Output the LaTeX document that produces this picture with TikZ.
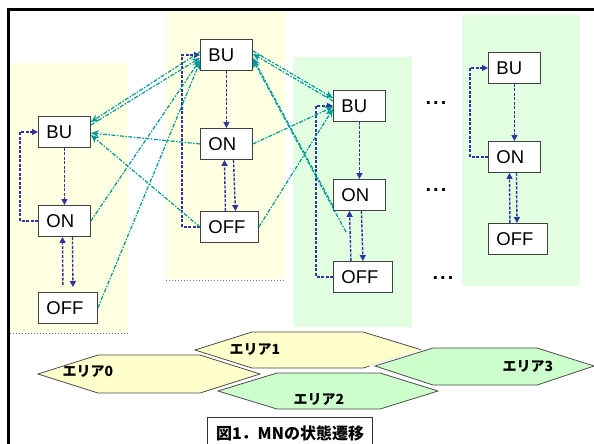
\documentclass[tikz,border=0pt]{standalone}
\usepackage{fontspec}
\setmainfont{Liberation Sans}
\newfontfamily\jp{Noto Sans CJK JP}
\usetikzlibrary{arrows.meta}

\definecolor{areayellow}{RGB}{255,255,226}
\definecolor{areagreen}{RGB}{226,255,226}
\definecolor{hexyellow}{RGB}{255,255,204}
\definecolor{hexgreen}{RGB}{204,255,204}
\definecolor{mnblue}{RGB}{51,51,160}
\definecolor{mnteal}{RGB}{0,153,153}

\tikzset{
  mnbox/.style={draw=black!75, fill=white, line width=0.9pt, anchor=north west,
    minimum height=31pt, inner xsep=8pt, inner ysep=0pt, text width=#1,
    align=left, font=\fontsize{18.5}{18.5}\selectfont},
  mnbox/.default=36pt,
  local/.style={draw=mnblue, line width=1.4pt, dash pattern=on 3pt off 1.5pt,
    -{Triangle[length=6pt,width=6pt]}},
  hand/.style={draw=mnteal, line width=1.2pt,
    dash pattern=on 4pt off 1.5pt on 1.5pt off 1.5pt,
    -{Stealth[length=8pt,width=7pt]}},
  hexarea/.style={draw=black!70, line width=0.8pt,
    preaction={draw=white, line width=4pt}},
  arealabel/.style={font=\jp\bfseries\fontsize{14}{14}\selectfont},
  dots/.style={font=\bfseries\fontsize{20}{20}\selectfont}
}

\begin{document}
\begin{tikzpicture}[x=1pt,y=-1pt]
\useasboundingbox (0,0) rectangle (594,444);
\clip (0,0) rectangle (594,444);
\fill[white] (0,0) rectangle (594,444);

% areas
\fill[areayellow] (10,63) rectangle (128,332);
\fill[areayellow] (166,10) rectangle (285,279);
\fill[areagreen] (293,57) rectangle (412,327);
\fill[areagreen] (462,15) rectangle (580,286);
\draw[black!55, dotted, line width=1pt] (10,333) -- (128,333);
\draw[black!55, dotted, line width=1pt] (166,280) -- (285,280);

\draw[line width=2.5pt] (8.5,450) -- (8.5,9.5) -- (600,9.5);

\begin{scope}[every node/.style={mnbox}]
\node (bu0) at (38,116) {BU};
\node (on0) at (38,205) {ON};
\node[text width=43pt] (off0) at (38,292) {OFF};
\node (bu1) at (200,39) {BU};
\node (on1) at (200,128) {ON};
\node[text width=42pt] (off1) at (200,211) {OFF};
\node (bu2) at (333,90) {BU};
\node (on2) at (333,179) {ON};
\node[text width=43pt] (off2) at (333,261) {OFF};
\node (bu3) at (488,52) {BU};
\node (on3) at (488,141) {ON};
\node[text width=43pt] (off3) at (488,223) {OFF};
\end{scope}

\node[dots] (dots1) at (436,103) {.\kern2pt.\kern2pt.};
\node[dots] (dots2) at (436,190) {.\kern2pt.\kern2pt.};
\node[dots] (dots3) at (443,278) {.\kern2pt.\kern2pt.};

% inside each area
\draw[local] (bu0.south) -- (on0.north);
\draw[local] ([xshift=-5pt,yshift=7pt]off0.north) -- ([xshift=-2pt]on0.south);
\draw[local] ([xshift=8pt]on0.south) -- ([xshift=5pt,yshift=5pt]off0.north);
\draw[local] (on0.west) -- ++(-18,0) |- (bu0.west);

\draw[local] (bu1.south) -- (on1.north);
\draw[local] ([xshift=-4pt]off1.north) -- ([xshift=-2pt]on1.south);
\draw[local] ([xshift=7pt]on1.south) -- ([xshift=6pt]off1.north);
\draw[local] (off1.west) -- ++(-18,0) |- (bu1.west);

\draw[local] (bu2.south) -- (on2.north);
\draw[local] ([xshift=-12pt]off2.north) -- ([xshift=-10pt]on2.south);
\draw[local] ([xshift=2pt]on2.south) -- (off2.north);
\draw[local] (off2.west) -- ++(-17,0) |- (bu2.west);

\draw[local] (bu3.south) -- (on3.north);
\draw[local] ([xshift=-8pt]off3.north) -- ([xshift=-5pt]on3.south);
\draw[local] ([xshift=2pt]on3.south) -- ([xshift=-1pt]off3.north);
\draw[local] (on3.west) -- ++(-18,0) |- (bu3.west);

% between areas
\coordinate (l2) at (346,232);
\draw[hand] ([yshift=3pt]bu1.west) -- ([yshift=10pt]bu0.east);
\draw[hand] ([yshift=7pt]bu0.east) -- ([yshift=-3pt]bu1.west);
\draw[hand] (on0.east) -- ([yshift=-5pt]bu1.west);
\draw[hand] (off0.east) -- ([yshift=-7pt]bu1.west);
\draw[hand] (on1.west) -- ([yshift=-1pt]bu0.east);
\draw[hand] (off1.west) -- ([yshift=-3pt]bu0.east);
\draw[hand] ([yshift=4pt]bu1.east) -- ([yshift=8pt]bu2.west);
\draw[hand] ([yshift=5pt]bu2.west) -- ([yshift=1pt]bu1.east);
\draw[hand] (on1.east) -- ([yshift=-1pt]bu2.west);
\draw[hand] (off1.east) -- ([yshift=-3pt]bu2.west);
\draw[hand] ([yshift=-11pt]on2.west) -- ([yshift=-3pt]bu1.east);
\draw[hand] (l2) -- ([yshift=-5pt]bu1.east);

% area hexagons
\draw[hexarea, fill=hexyellow] (38,374) -- (98,355) -- (200,355) -- (260,374) -- (200,393) -- (98,393) -- cycle;
\draw[hexarea, fill=hexyellow] (195,350) -- (252,332) -- (363,332) -- (422,350) -- (363,368) -- (252,368) -- cycle;
\draw[hexarea, fill=hexgreen] (218,391) -- (277,373) -- (380,373) -- (438,391) -- (380,409) -- (277,409) -- cycle;
\draw[hexarea, fill=hexgreen] (375,366) -- (433,348) -- (537,348) -- (594,366) -- (537,385) -- (433,385) -- cycle;
\node[arealabel] (a0) at (88,371) {エリア0};
\node[arealabel] (a1) at (255,349) {エリア1};
\node[arealabel] (a2) at (319,399) {エリア2};
\node[arealabel] (a3) at (528,366) {エリア3};

\node[draw=black!80, line width=1pt, fill=white, anchor=north west,
  minimum width=165pt, minimum height=32pt, inner sep=0pt,
  font=\jp\bfseries\fontsize{16}{16}\selectfont] (fig) at (207,417) {図1．MNの状態遷移};
\end{tikzpicture}
\end{document}
